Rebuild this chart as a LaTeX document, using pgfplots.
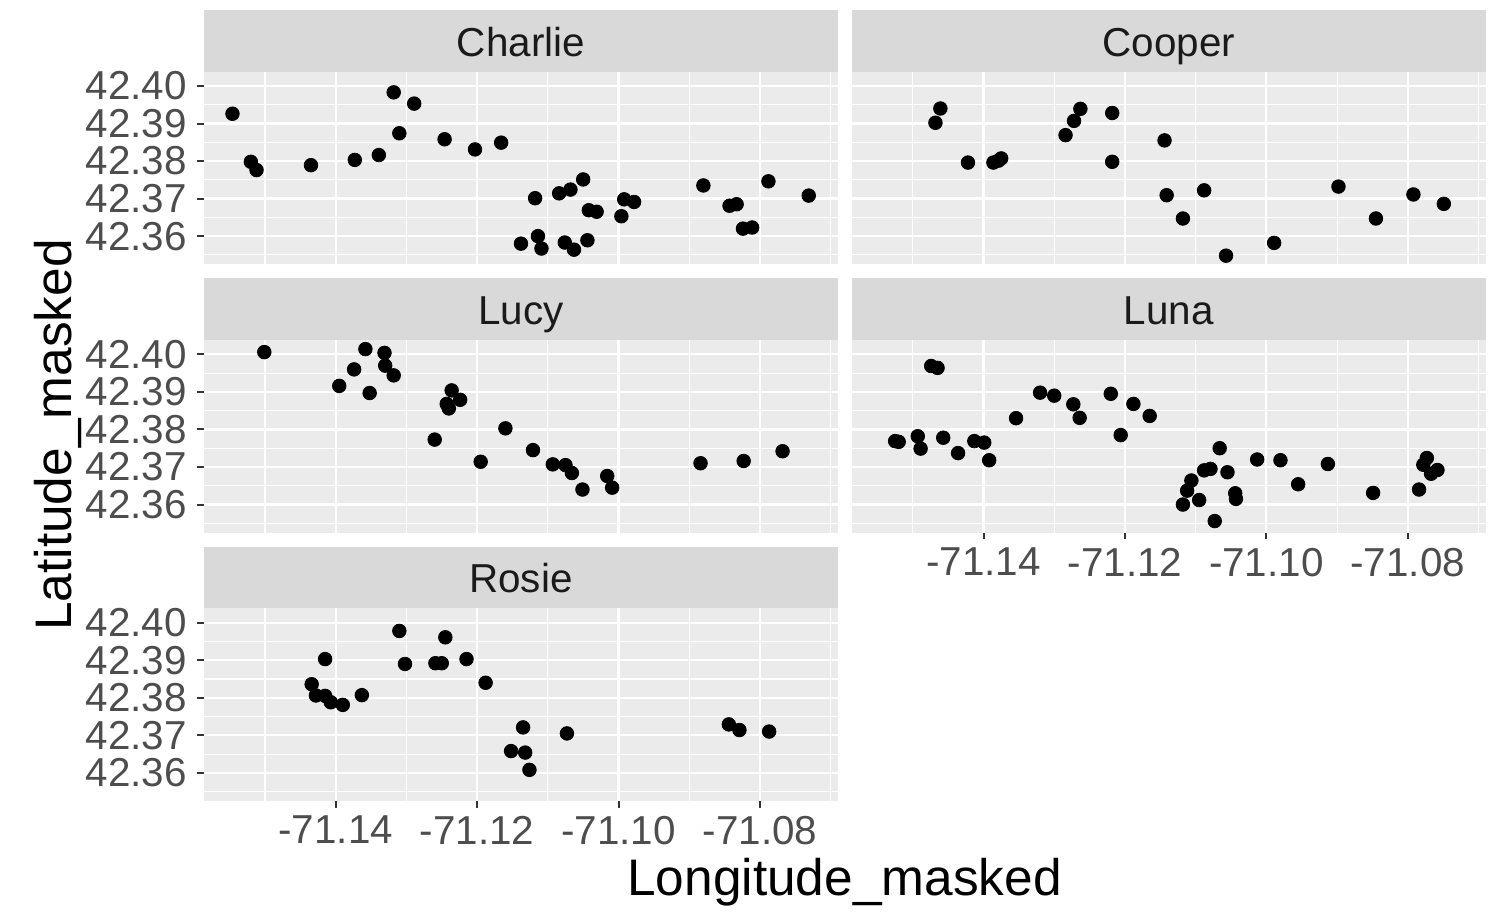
\documentclass[border=0pt]{standalone}
\usepackage{fontspec}
\setmainfont{Liberation Sans}
\usepackage{pgfplots}
\pgfplotsset{compat=1.18}
\definecolor{panelbg}{HTML}{EBEBEB}
\definecolor{stripbg}{HTML}{D9D9D9}
\definecolor{ticklab}{HTML}{4D4D4D}
\definecolor{stripfg}{HTML}{1A1A1A}
\definecolor{tickcol}{HTML}{333333}

\pgfplotsset{
  facet/.style={
    scale only axis, width=316.75pt, height=96.3pt,
    xmin=-71.1586, xmax=-71.0690, ymin=42.3525, ymax=42.4038,
    clip=false, anchor=south west,
    axis background/.style={fill=panelbg},
    axis line style={draw=none},
    tick pos=left, tick align=outside,
    major tick length=3.4pt, minor tick length=0pt,
    every minor tick/.append style={draw=none},
    every major tick/.append style={draw=tickcol, line width=1pt},
    xtick={-71.14,-71.12,-71.10,-71.08},
    xticklabels={-71.14,-71.12,-71.10,-71.08},
    ytick={42.36,42.37,42.38,42.39,42.40},
    yticklabels={42.36,42.37,42.38,42.39,42.40},
    minor xtick={-71.15,-71.13,-71.11,-71.09,-71.07},
    minor ytick={42.355,42.365,42.375,42.385,42.395},
    grid=both,
    major grid style={white, line width=1.1pt},
    minor grid style={white, line width=0.55pt},
    tick label style={font=\fontsize{20.2}{24}\selectfont, text=ticklab, inner sep=0pt},
    xticklabel style={anchor=north, yshift=-4pt},
    yticklabel style={anchor=east, xshift=-5.1pt},
  },
  noxlab/.style={xticklabels={}, every major x tick/.append style={draw=none}},
  noylab/.style={yticklabels={}, every major y tick/.append style={draw=none}},
  pts/.style={only marks, mark=*, mark size=3.4pt, black},
}
\tikzset{
  striplab/.style={anchor=base, yshift=7.8pt, font=\fontsize{20.2}{24}\selectfont, text=stripfg},
}

\begin{document}
\begin{tikzpicture}
\path[use as bounding box] (0,0) rectangle (754pt,455.5pt);

% Charlie
\begin{axis}[facet, noxlab, at={(102.1pt,323.35pt)}]
\addplot[pts] table {
x y
-71.1546 42.3926
-71.1520 42.3798
-71.1512 42.3776
-71.1435 42.3789
-71.1373 42.3803
-71.1339 42.3816
-71.1318 42.3983
-71.1289 42.3953
-71.1310 42.3874
-71.1246 42.3858
-71.1203 42.3831
-71.1166 42.3849
-71.1118 42.3701
-71.1084 42.3714
-71.1068 42.3724
-71.1050 42.3751
-71.1042 42.3669
-71.1031 42.3665
-71.0992 42.3698
-71.0978 42.3691
-71.0996 42.3653
-71.1138 42.3580
-71.1114 42.3600
-71.1109 42.3567
-71.1076 42.3583
-71.1063 42.3564
-71.1044 42.3589
-71.0880 42.3735
-71.0843 42.3681
-71.0833 42.3685
-71.0788 42.3746
-71.0824 42.3620
-71.0811 42.3623
-71.0731 42.3708
};
\fill[stripbg] (rel axis cs:0,1) rectangle (rel axis cs:1,1.3204);
\node[striplab] at (rel axis cs:0.5,1) {Charlie};
\end{axis}

% Cooper
\begin{axis}[facet, noxlab, noylab, at={(426pt,323.35pt)}]
\addplot[pts] table {
x y
-71.1461 42.3940
-71.1468 42.3902
-71.1422 42.3796
-71.1386 42.3796
-71.1379 42.3801
-71.1375 42.3807
-71.1284 42.3869
-71.1272 42.3907
-71.1263 42.3939
-71.1218 42.3928
-71.1218 42.3798
-71.1144 42.3855
-71.1141 42.3709
-71.1088 42.3722
-71.1118 42.3647
-71.1057 42.3548
-71.0989 42.3582
-71.0898 42.3732
-71.0845 42.3647
-71.0792 42.3711
-71.0749 42.3686
};
\fill[stripbg] (rel axis cs:0,1) rectangle (rel axis cs:1,1.3204);
\node[striplab] at (rel axis cs:0.5,1) {Cooper};
\end{axis}

% Lucy
\begin{axis}[facet, noxlab, at={(102.1pt,189.15pt)}]
\addplot[pts] table {
x y
-71.1501 42.4006
-71.1358 42.4014
-71.1331 42.4004
-71.1374 42.3960
-71.1330 42.3970
-71.1318 42.3944
-71.1395 42.3916
-71.1352 42.3897
-71.1236 42.3904
-71.1224 42.3879
-71.1243 42.3868
-71.1240 42.3856
-71.1260 42.3773
-71.1160 42.3803
-71.1195 42.3714
-71.1121 42.3745
-71.1093 42.3707
-71.1075 42.3705
-71.1066 42.3684
-71.1051 42.3640
-71.1016 42.3676
-71.1009 42.3645
-71.0884 42.3710
-71.0823 42.3716
-71.0768 42.3742
};
\fill[stripbg] (rel axis cs:0,1) rectangle (rel axis cs:1,1.3204);
\node[striplab] at (rel axis cs:0.5,1) {Lucy};
\end{axis}

% Luna
\begin{axis}[facet, noylab, at={(426pt,189.15pt)}]
\addplot[pts] table {
x y
-71.1525 42.3769
-71.1520 42.3767
-71.1493 42.3782
-71.1489 42.3749
-71.1457 42.3778
-71.1436 42.3737
-71.1413 42.3769
-71.1399 42.3765
-71.1392 42.3718
-71.1474 42.3969
-71.1465 42.3964
-71.1354 42.3830
-71.1320 42.3898
-71.1300 42.3890
-71.1273 42.3867
-71.1264 42.3831
-71.1220 42.3895
-71.1206 42.3785
-71.1188 42.3868
-71.1165 42.3836
-71.1066 42.3750
-71.1088 42.3691
-71.1079 42.3695
-71.1055 42.3686
-71.1106 42.3664
-71.1112 42.3637
-71.1095 42.3612
-71.1118 42.3600
-71.1044 42.3630
-71.1043 42.3615
-71.1073 42.3556
-71.1013 42.3720
-71.0980 42.3718
-71.0955 42.3654
-71.0913 42.3708
-71.0849 42.3631
-71.0784 42.3640
-71.0778 42.3706
-71.0773 42.3724
-71.0767 42.3682
-71.0758 42.3692
};
\fill[stripbg] (rel axis cs:0,1) rectangle (rel axis cs:1,1.3204);
\node[striplab] at (rel axis cs:0.5,1) {Luna};
\end{axis}

% Rosie
\begin{axis}[facet, at={(102.1pt,55pt)}]
\addplot[pts] table {
x y
-71.1310 42.3978
-71.1245 42.3961
-71.1415 42.3903
-71.1302 42.3890
-71.1259 42.3892
-71.1250 42.3892
-71.1215 42.3903
-71.1188 42.3840
-71.1434 42.3836
-71.1428 42.3806
-71.1415 42.3805
-71.1407 42.3788
-71.1390 42.3781
-71.1363 42.3807
-71.1135 42.3721
-71.1073 42.3705
-71.1152 42.3658
-71.1132 42.3654
-71.1126 42.3608
-71.0844 42.3729
-71.0829 42.3714
-71.0787 42.3710
};
\fill[stripbg] (rel axis cs:0,1) rectangle (rel axis cs:1,1.3204);
\node[striplab] at (rel axis cs:0.5,1) {Rosie};
\end{axis}

\node[anchor=base, font=\fontsize{25.7}{30}\selectfont, text=black] at (422.25pt,8pt) {Longitude\_masked};
\node[anchor=base, rotate=90, font=\fontsize{25.7}{30}\selectfont, text=black] at (35.5pt,238pt) {Latitude\_masked};
\end{tikzpicture}
\end{document}
